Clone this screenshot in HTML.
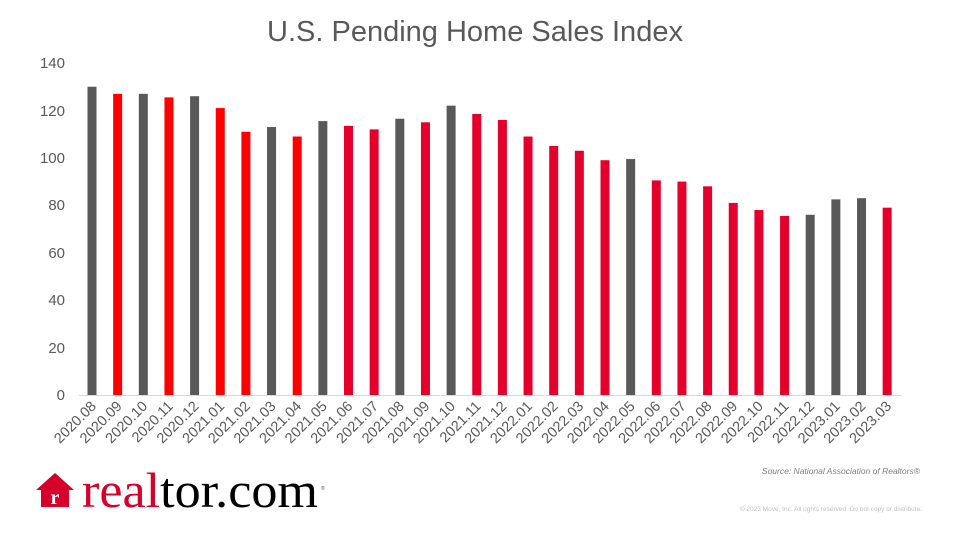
<!DOCTYPE html>
<html><head><meta charset="utf-8"><style>
body{margin:0;background:#fff}
svg{display:block;font-family:"Liberation Sans",sans-serif}
</style></head><body>
<svg width="960" height="540" viewBox="0 0 960 540" xmlns="http://www.w3.org/2000/svg">
<text x="475" y="41" text-anchor="middle" font-size="29" fill="#595959">U.S. Pending Home Sales Index</text>
<g font-size="15" fill="#595959" text-anchor="end">
<text x="65" y="400">0</text>
<text x="65" y="353">20</text>
<text x="65" y="305">40</text>
<text x="65" y="258">60</text>
<text x="65" y="210">80</text>
<text x="65" y="163">100</text>
<text x="65" y="116">120</text>
<text x="65" y="68">140</text>
</g>
<line x1="79" y1="395.5" x2="902" y2="395.5" stroke="#d9d9d9" stroke-width="1"/>
<g id="bars"></g>
<g id="labels" font-size="14.5" fill="#595959" text-anchor="end"></g>
<text x="920" y="474" text-anchor="end" font-size="8.5" font-style="italic" fill="#7f7f7f">Source:  National  Association  of  Realtors®</text>
<text x="922" y="511" text-anchor="end" font-size="6.5" fill="#bfbfbf">© 2023 Move, Inc. All rights reserved. Do not copy or distribute.</text>
<polygon points="55,473 74,490 69,490 69,507 41,507 41,490 36,490" fill="#d6002b"/>
<text x="55" y="504" text-anchor="middle" font-family="Liberation Serif,serif" font-size="20" font-weight="bold" fill="#fff">r</text>
<text x="82" y="507" font-family="Liberation Serif,serif" font-size="50" textLength="236" lengthAdjust="spacingAndGlyphs"><tspan fill="#d6002b">real</tspan><tspan fill="#000">tor.com</tspan></text>
<text x="321" y="490" font-size="5" fill="#555">®</text>
</svg>
<script>
var v=[130,127,127,125.5,126,121,111,113,109,115.5,113.5,112,116.5,115,122,118.5,116,109,105,103,99,99.5,90.5,90,88,81,78,75.5,76,82.5,83,79];
var gray=[0,2,4,7,9,12,14,21,28,29,30],red=[1,3,5,6,8];
var lab=[];for(var y=2020;y<=2023;y++)for(var m=1;m<=12;m++){if((y==2020&&m<8)||(y==2023&&m>3))continue;lab.push(y+"."+(m<10?"0":"")+m);}
var b="",l="";
for(var i=0;i<32;i++){var cx=92+i*25.65,h=v[i]*2.3714;
var c=gray.indexOf(i)>=0?"#595959":(red.indexOf(i)>=0?"#ff0000":"#e4002b");
b+='<rect x="'+(cx-4.5)+'" y="'+(395-h)+'" width="9" height="'+h+'" fill="'+c+'"/>';
l+='<text transform="translate('+(cx+5)+',407) rotate(-45)">'+lab[i]+'</text>';}
document.getElementById("bars").innerHTML=b;document.getElementById("labels").innerHTML=l;
</script>
</body></html>
